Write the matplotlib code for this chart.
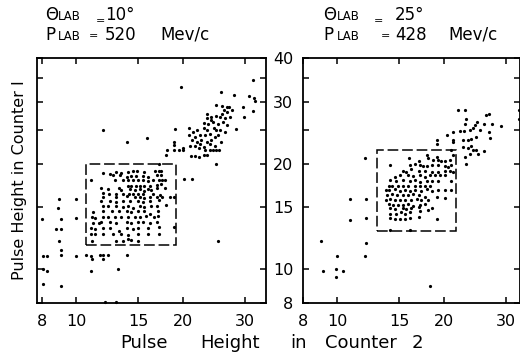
import numpy as np
import matplotlib
matplotlib.use("Agg")
import matplotlib.pyplot as plt
from matplotlib.patches import Rectangle
from matplotlib.ticker import FixedLocator, FixedFormatter, NullLocator

plt.rcParams['font.family'] = ['DejaVu Sans']

# ---------------- data: theta_lab = 10 deg, p_lab = 520 MeV/c ----------------
a_high_x = [31.6, 25.6, 28.0, 30.8, 31.8, 32.0, 19.8, 24.9, 25.9, 26.6, 27.1, 27.5, 26.2, 26.7,
            25.8, 23.4, 24.1, 24.9, 25.5, 26.3, 27.2, 29.6, 31.6, 29.8, 23.4, 24.1, 22.9, 23.6,
            24.4, 25.2, 26.0, 26.6, 22.9, 23.4, 24.5, 24.8, 25.5, 26.3, 28.3, 21.9, 20.9, 21.4,
            20.9, 21.7, 22.4, 23.1, 23.9, 24.7, 25.2, 25.7, 21.3, 21.9, 22.6, 23.4, 24.1, 21.0,
            21.7, 22.4, 23.0, 23.9, 24.7, 22.3, 23.1, 23.9, 24.4, 24.9, 25.3, 19.0, 18.9, 18.9,
            18.1, 18.9, 19.5, 20.0, 20.0, 17.9, 21.1, 21.7, 22.2, 22.9, 23.4, 24.9, 11.9, 13.9,
            15.9, 20.2, 21.2, 25.1]
a_high_y = [34.7, 32.0, 31.3, 31.1, 30.8, 30.1, 33.0, 29.3, 29.1, 29.0, 28.9, 28.4, 28.5, 28.0,
            27.7, 27.7, 27.1, 27.4, 27.1, 26.9, 27.1, 29.0, 28.2, 27.2, 26.9, 26.6, 26.1, 26.0,
            26.3, 26.0, 26.3, 25.7, 25.2, 24.9, 25.2, 24.9, 24.9, 24.6, 25.1, 24.9, 25.2, 24.6,
            24.1, 23.8, 24.1, 24.1, 24.2, 23.8, 24.1, 23.0, 23.3, 23.0, 23.3, 23.0, 23.3, 22.4,
            22.5, 22.8, 22.3, 22.8, 22.5, 22.1, 21.9, 21.9, 21.9, 21.9, 21.9, 25.1, 23.0, 22.6,
            21.9, 21.9, 21.9, 21.8, 22.1, 21.1, 21.0, 21.0, 20.9, 21.1, 21.1, 19.9, 24.9, 23.1,
            23.7, 18.1, 18.1, 12.0]

a_box_x = [17.1,
           11.9, 12.5, 13.0, 13.4, 14.0, 14.5, 14.9, 15.6, 16.7, 17.1, 17.4,
           12.7, 13.3, 13.9, 14.3, 14.8, 15.5, 16.0, 16.9, 17.4,
           11.0, 12.9, 13.6, 14.0, 14.5, 15.0, 15.5, 16.0, 16.5, 17.2, 17.5,
           14.0, 14.3, 14.8, 15.2, 15.6, 16.2, 16.9, 17.4, 17.8,
           11.8, 12.3, 13.2, 13.4, 14.2, 14.7, 15.2, 15.6, 16.0, 16.3, 16.9, 17.8,
           11.9, 12.4, 13.0, 13.6, 14.1, 14.5, 15.0, 15.5, 16.5, 17.3,
           11.9, 13.0, 13.9, 14.7, 15.2, 15.6, 16.2, 16.9, 17.5, 18.4, 18.9,
           11.8, 12.5, 13.0, 13.6, 14.2, 15.0, 15.5, 16.2, 17.1,
           11.9, 12.3, 13.0, 13.6, 14.0, 14.5, 15.2, 15.6, 16.3, 16.9, 18.0,
           11.2, 11.9, 12.6, 13.2, 13.9, 14.3, 15.0, 15.6, 16.2, 17.0,
           11.1, 11.3, 11.9, 12.3, 12.9, 13.4, 14.0, 14.7, 15.2, 15.8, 16.6, 17.0,
           11.2, 11.6, 11.8, 12.5, 13.0, 13.9, 14.3, 15.0, 15.5, 16.2, 16.9,
           11.0, 11.3, 11.9, 12.5, 13.2, 13.9, 14.5, 15.0, 16.0, 17.1, 18.9,
           11.0, 11.3, 11.9, 12.7, 13.4, 14.0, 15.0, 16.0, 17.1,
           11.1, 13.0, 13.6, 14.0, 14.3, 15.0]
a_box_y = [20.0,
           18.8, 18.7, 18.9, 18.8, 18.9, 19.0, 19.0, 18.9, 19.0, 19.0, 19.0,
           18.5, 18.6, 18.3, 18.4, 18.4, 18.4, 18.3, 18.5, 18.5,
           17.9, 17.9, 18.0, 17.9, 18.0, 17.9, 17.9, 17.8, 17.9, 18.0, 17.9,
           17.2, 17.3, 17.2, 17.3, 17.3, 17.2, 17.4, 17.5, 17.9,
           17.0, 16.9, 17.0, 16.8, 16.9, 16.8, 16.9, 16.7, 16.9, 16.8, 17.0, 17.0,
           16.5, 16.4, 16.4, 16.4, 16.4, 16.4, 16.4, 16.4, 16.4, 16.3,
           16.1, 16.0, 16.2, 16.0, 16.1, 15.9, 16.0, 16.1, 16.1, 16.1, 16.0,
           15.6, 15.6, 15.5, 15.6, 15.6, 15.6, 15.5, 15.6, 15.7,
           15.1, 15.1, 15.1, 15.0, 15.1, 14.9, 15.1, 15.0, 15.1, 15.1, 15.2,
           14.5, 14.6, 14.6, 14.6, 14.6, 14.5, 14.6, 14.6, 14.4, 14.6,
           14.1, 14.0, 14.1, 14.1, 14.1, 14.1, 14.1, 14.1, 14.1, 14.2, 14.1, 14.2,
           13.5, 13.5, 13.6, 13.6, 13.5, 13.6, 13.5, 13.6, 13.6, 13.5, 13.6,
           13.1, 13.0, 13.1, 13.1, 12.8, 13.1, 13.0, 13.1, 13.1, 13.2, 13.2,
           12.6, 12.6, 12.6, 12.6, 12.6, 12.5, 12.6, 12.6, 12.6,
           12.0, 12.0, 12.0, 12.2, 12.1, 12.0]

a_low_x = [8.97, 10.0, 8.92, 9.05, 10.0, 8.0, 8.78, 9.05, 8.97, 9.05, 9.05, 8.09, 8.3, 10.0,
           10.7, 11.0, 11.1, 11.7, 11.9, 12.3, 11.9, 13.9, 11.0, 13.1, 8.09, 8.3, 8.09, 9.1,
           12.1, 13.0]
a_low_y = [15.8, 15.8, 14.9, 13.9, 14.0, 13.9, 13.0, 13.0, 12.0, 11.3, 11.0, 10.9, 10.9, 10.9,
           11.0, 10.9, 10.7, 11.0, 11.0, 11.0, 10.7, 11.0, 9.9, 10.0, 10.0, 9.9, 9.06, 8.96,
           8.05, 8.03]

# ---------------- data: theta_lab = 25 deg, p_lab = 428 MeV/c ----------------
b_high_x = [32.6, 32.6, 29.1, 26.8, 26.3, 27.4, 26.1, 26.9, 27.1, 24.9, 24.5, 24.2, 23.8, 25.4,
            24.7, 23.9, 23.2, 22.0, 23.0, 23.0, 22.9, 22.2, 21.3, 21.2, 20.4, 19.2, 19.2, 21.3,
            22.7, 23.4, 22.7, 23.4, 23.9, 24.2, 23.7, 24.7, 25.0, 26.0, 23.0, 23.2, 21.0, 21.3]
b_high_y = [28.5, 26.8, 25.6, 27.7, 27.5, 26.0, 26.0, 24.6, 23.7, 26.3, 25.7, 25.2, 24.9, 24.9,
            23.8, 23.5, 26.8, 28.4, 28.5, 26.0, 24.8, 24.8, 24.6, 23.0, 24.1, 23.3, 22.7, 23.3,
            23.3, 23.3, 22.3, 22.2, 22.4, 21.8, 21.3, 21.8, 21.3, 21.7, 20.9, 19.9, 21.8, 21.1]

b_box_x = [16.0, 17.0, 17.9, 18.1, 18.7, 19.1, 19.3, 19.7, 20.2, 20.8,
           14.1, 16.1, 16.6, 17.1, 17.5, 17.9, 18.5, 19.3, 20.2, 20.6, 21.0,
           15.4, 15.7, 16.2, 17.0, 17.7, 18.5, 19.3, 20.2, 20.8, 21.3,
           14.6, 15.1, 15.9, 16.4, 17.1, 17.7, 18.3, 18.9, 19.5, 20.2,
           14.1, 14.7, 15.4, 16.1, 16.6, 17.1, 17.9, 18.5, 19.3, 21.0,
           14.0, 14.3, 14.9, 15.4, 15.9, 16.6, 17.1, 17.7, 18.3,
           13.7, 14.0, 14.6, 15.1, 15.6, 16.1, 16.6, 17.3, 17.9, 18.5, 19.3, 20.2, 21.0,
           13.8, 14.3, 14.8, 15.4, 15.9, 16.4, 17.0, 17.7, 20.2,
           13.7, 14.1, 14.6, 15.1, 15.6, 16.2, 16.8, 17.3, 18.1, 19.1,
           14.0, 14.4, 14.9, 15.4, 15.9, 16.4, 17.1, 17.7, 18.5,
           14.1, 14.6, 15.4, 15.7, 16.2, 17.0, 18.1,
           14.1, 14.7, 15.2, 15.6, 16.1, 17.1,
           14.1, 14.6, 15.1, 15.6, 16.1, 17.0, 19.1,
           14.1, 16.1]
b_box_y = [20.7, 20.4, 21.1, 20.7, 20.5, 20.9, 20.5, 20.4, 20.3, 20.5,
           19.8, 19.8, 19.9, 19.8, 19.7, 19.7, 19.8, 19.8, 19.7, 19.6, 19.8,
           19.1, 18.9, 19.3, 19.1, 19.1, 18.9, 18.9, 19.1, 19.1, 18.9,
           18.3, 18.5, 18.5, 18.4, 18.5, 18.3, 18.5, 18.5, 18.5, 18.5,
           17.9, 17.8, 18.0, 17.8, 17.9, 17.7, 17.8, 17.8, 17.8, 17.8,
           17.3, 17.2, 17.3, 17.3, 17.3, 17.2, 17.2, 17.3, 17.2,
           16.8, 16.8, 16.9, 16.7, 16.8, 16.7, 16.8, 16.7, 16.9, 16.7, 16.8, 16.8, 16.8,
           16.3, 16.4, 16.3, 16.3, 16.3, 16.4, 16.3, 16.1, 15.9,
           15.7, 15.8, 15.7, 15.7, 15.7, 15.7, 15.8, 15.7, 15.7, 16.0,
           15.3, 15.2, 15.2, 15.2, 15.3, 15.1, 15.2, 15.3, 14.9,
           14.9, 14.8, 14.9, 14.8, 14.9, 15.0, 14.7,
           14.4, 14.4, 14.5, 14.4, 14.5, 14.6,
           14.0, 13.9, 13.9, 13.9, 14.0, 14.1, 13.9,
           12.9, 12.9]

b_low_x = [12.0, 10.9, 12.1, 10.9, 12.1, 12.1, 9.0, 12.0, 10.0, 9.1, 9.9, 10.4, 9.9, 18.3]
b_low_y = [20.8, 15.8, 15.8, 13.8, 14.0, 11.9, 12.0, 10.9, 10.9, 9.9, 10.0, 9.85, 9.5, 8.94]

# selection windows (x0, x1, y0, y1)
a_window = (10.7, 19.2, 11.7, 20.0)
b_window = (13.0, 21.7, 12.8, 21.8)

x_ticks = [8, 10, 15, 20, 30]
y_ticks = [8, 10, 15, 20, 25, 30, 35, 40]
y_tick_labels = ["8", "10", "15", "20", "", "30", "", "40"]

# ---------------- figure ----------------
W, H = 520, 356
fig = plt.figure(figsize=(W / 100, H / 100), dpi=100)
fig.patch.set_facecolor("white")

def px_axes(x0, y0, x1, y1):
    return fig.add_axes([x0 / W, 1 - y1 / H, (x1 - x0) / W, (y1 - y0) / H])

ax1 = px_axes(36.7, 58, 265.7, 303)
ax2 = px_axes(303, 58, 519.5, 303)

def style(ax, xlim, window, show_ylabels):
    ax.set_xscale("log")
    ax.set_yscale("log")
    ax.set_xlim(*xlim)
    ax.set_ylim(8, 40)
    ax.xaxis.set_major_locator(FixedLocator(x_ticks))
    ax.xaxis.set_major_formatter(FixedFormatter([str(t) for t in x_ticks]))
    ax.xaxis.set_minor_locator(NullLocator())
    ax.yaxis.set_major_locator(FixedLocator(y_ticks))
    ax.yaxis.set_minor_locator(NullLocator())
    if show_ylabels:
        ax.yaxis.set_major_formatter(FixedFormatter(y_tick_labels))
    ax.tick_params(axis="both", direction="in", length=4, width=1.1,
                   top=True, right=True, labelsize=11.5, pad=7, colors="black")
    ax.tick_params(axis="x", pad=8)
    ax.tick_params(axis="y", labelleft=show_ylabels, labelright=False)
    for s in ax.spines.values():
        s.set_linewidth(1.3)
        s.set_color("black")
    x0, x1, y0, y1 = window
    ax.add_patch(Rectangle((x0, y0), x1 - x0, y1 - y0, fill=False,
                           edgecolor="black", linewidth=1.1,
                           linestyle=(0, (7, 2.5))))

style(ax1, (7.75, 34.3), a_window, False)
style(ax2, (8.0, 32.8), b_window, True)

mk = dict(linestyle="none", marker="o", markersize=2.3, color="black",
          markeredgewidth=0, clip_on=False)
for xs, ys in ((a_high_x, a_high_y), (a_box_x, a_box_y), (a_low_x, a_low_y)):
    ax1.plot(np.array(xs), np.array(ys), **mk)
for xs, ys in ((b_high_x, b_high_y), (b_box_x, b_box_y), (b_low_x, b_low_y)):
    ax2.plot(np.array(xs), np.array(ys), **mk)

# ---------------- texts ----------------
def ftext(xp, yp, s, size, **kw):
    fig.text(xp / W, 1 - yp / H, s, fontsize=size, va="baseline", ha="left", **kw)

big, small = 12, 8.5
row2 = 39.5   # baseline of second header line (multi-line texts align on last line)
for (x0, ang, mom, xs) in ((45, "10°", "520", (57.5, 95.5, 89, 105, 160)),
                           (323, "25°", "428", (337, 373.5, 381, 395, 448))):
    ftext(x0, row2, "Θ\nP", big, linespacing=1.12)
    ftext(xs[0], row2, "LAB\nLAB", small, linespacing=1.6)
    ftext(xs[1], 24.5, "=", 8)
    ftext(xs[2], 39, "=", 8)
    ftext(xs[3], row2, ang + "\n" + mom, big, linespacing=1.12)
    ftext(xs[4], row2, "Mev/c", big)

for word, xw in (("Pulse", 120), ("Height", 200), ("in", 290), ("Counter", 325), ("2", 412)):
    ftext(xw, 348, word, 13)
fig.text(20 / W, 1 - 180 / H, "Pulse Height in Counter I", fontsize=11.5,
         rotation=90, ha="center", va="center")

fig.savefig("out.png", dpi=100, facecolor="white")
